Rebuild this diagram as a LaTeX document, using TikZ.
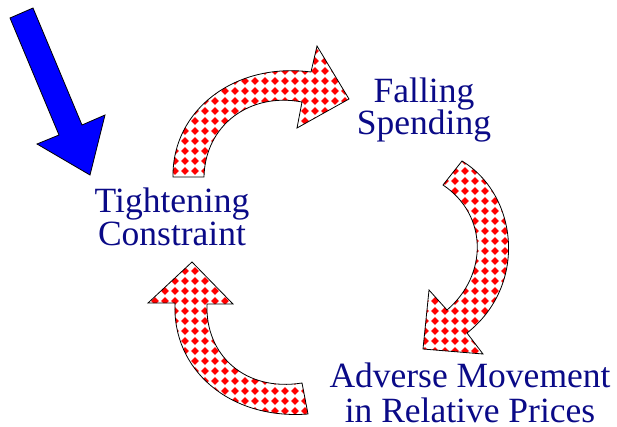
\documentclass[tikz,border=0pt]{standalone}
\usepackage{fontspec}
\setmainfont{Liberation Serif}
\usetikzlibrary{patterns}

% small red diamonds on a 10pt grid
\pgfdeclarepatternformonly{reddiamonds}{\pgfpoint{-1pt}{-1pt}}{\pgfpoint{11pt}{11pt}}{\pgfpoint{10pt}{10pt}}{%
  \pgfpathmoveto{\pgfpoint{5pt}{1.2pt}}%
  \pgfpathlineto{\pgfpoint{8.8pt}{5pt}}%
  \pgfpathlineto{\pgfpoint{5pt}{8.8pt}}%
  \pgfpathlineto{\pgfpoint{1.2pt}{5pt}}%
  \pgfpathclose
  \pgfusepath{fill}}

\definecolor{labelblue}{RGB}{10,10,135}

\tikzset{
  cyclearrow/.style={draw=black, line width=0.8pt, line join=miter,
    preaction={fill=white}, pattern=reddiamonds, pattern color=red},
  pusharrow/.style={draw=black, line width=0.8pt, fill=blue},
  label/.style={text=labelblue, anchor=base, font=\fontsize{35.5}{40}\selectfont, inner sep=0pt}
}

\begin{document}
\begin{tikzpicture}[x=1pt, y=-1pt]
\useasboundingbox (0,0) rectangle (617,426);

% outside push
\draw[pusharrow] (10,18) -- (33,8) -- (82,125) -- (105,115) -- (90,175)
  -- (37,144) -- (59,135) -- cycle;

% top arc: constraint -> spending
\draw[cyclearrow] (173,177) .. controls (172,110) and (235,62) .. (311,72)
  -- (317,46) -- (349,99) -- (297,128) -- (302,102)
  .. controls (250,92) and (205,125) .. (204,177) -- cycle;

% right arc: spending -> prices
\draw[cyclearrow] (462,161) .. controls (518,195) and (528,285) .. (467,333)
  -- (483,354) -- (423,349) -- (429,290) -- (447,310)
  .. controls (488,275) and (488,215) .. (443,185) -- cycle;

% lower-left arc: prices -> constraint
\draw[cyclearrow] (308,414) .. controls (230,420) and (172,370) .. (175,303)
  -- (148,303) -- (192,262) -- (233,304) -- (207,304)
  .. controls (205,355) and (245,392) .. (302,383) -- cycle;

% labels, one node per line, placed on their baselines
\node[label] (constraint1) at (172,212) {Tightening};
\node[label] (constraint2) at (172,245) {Constraint};
\node[label] (spending1) at (424,102) {Falling};
\node[label] (spending2) at (424,134) {Spending};
\node[label] (prices1) at (470,387) {Adverse Movement};
\node[label] (prices2) at (470,422) {in Relative Prices};
\end{tikzpicture}
\end{document}
